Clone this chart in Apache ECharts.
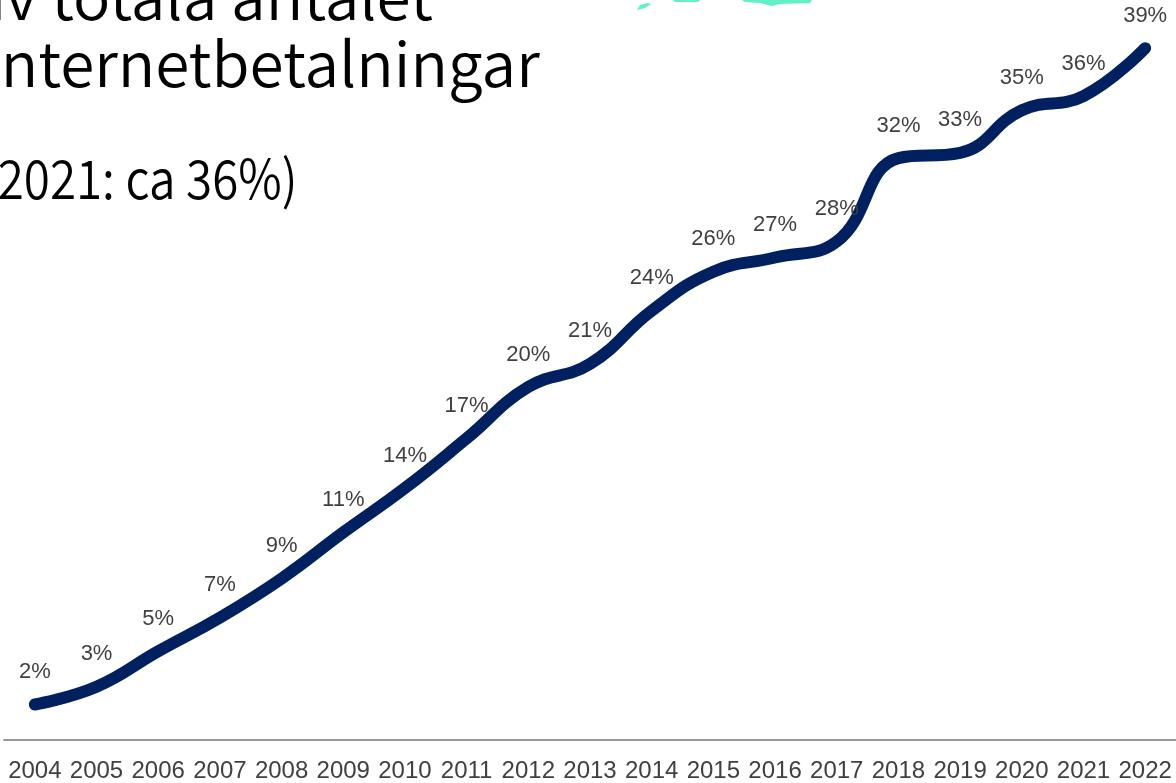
<!DOCTYPE html>
<html>
<head>
<meta charset="utf-8">
<script src="https://cdn.jsdelivr.net/npm/echarts@6/dist/echarts.min.js"></script>
<style>
html,body{margin:0;padding:0;background:#fff;}
#chart{width:1176px;height:783px;}
</style>
</head>
<body>
<div id="chart"></div>
<script>
const years = ['2004','2005','2006','2007','2008','2009','2010','2011','2012','2013','2014','2015','2016','2017','2018','2019','2020','2021','2022'];
const shareValues = [2.0, 3.0, 5.0, 6.9, 9.1, 11.7, 14.2, 17.0, 19.9, 21.2, 24.2, 26.4, 27.2, 28.1, 32.8, 33.1, 35.5, 36.3, 39.0];
const shareLabels = ['2%','3%','5%','7%','9%','11%','14%','17%','20%','21%','24%','26%','27%','28%','32%','33%','35%','36%','39%'];
const titleLines = ['av totala antalet', 'internetbetalningar', '(2021: ca 36%)'];

const chart = echarts.init(document.getElementById('chart'));
const titleFont = '350 62px "Noto Sans CJK JP", "Noto Sans", sans-serif';
chart.setOption({
  backgroundColor: '#ffffff',
  animation: false,
  grid: { left: 4, right: -6, top: 30.4, bottom: 43, containLabel: false },
  xAxis: {
    type: 'category',
    data: years,
    boundaryGap: true,
    axisLine: { lineStyle: { color: '#999999', width: 2 } },
    axisTick: { show: false },
    axisLabel: { color: '#404040', fontSize: 24, fontFamily: '"Liberation Sans", Arial, sans-serif', margin: 19, interval: 0 }
  },
  yAxis: { type: 'value', min: 0, max: 40, show: false, splitLine: { show: false } },
  series: [{
    type: 'line',
    data: shareValues,
    smooth: 0.45,
    symbol: 'circle',
    symbolSize: 1,
    showSymbol: true,
    itemStyle: { color: '#002060' },
    clip: false,
    lineStyle: { color: '#002060', width: 12, cap: 'round', join: 'round' },
    label: {
      show: true,
      position: 'top',
      distance: 21,
      color: '#404040',
      fontSize: 22,
      fontFamily: '"Liberation Sans", Arial, sans-serif',
      formatter: p => shareLabels[p.dataIndex]
    }
  }],
  graphic: [
    { type: 'text', x: -29, y: -4, style: { text: titleLines[0], font: titleFont, fill: '#000', textVerticalAlign: 'middle' } },
    { type: 'text', x: -16, y: 63, style: { text: titleLines[1], font: titleFont, fill: '#000', textVerticalAlign: 'middle' } },
    { type: 'text', x: -18, y: 178, scaleX: 0.88, style: { text: titleLines[2], font: '350 54px "Noto Sans CJK JP", "Noto Sans", sans-serif', fill: '#000', textVerticalAlign: 'middle' } },
    { type: 'polygon', shape: { points: [[637,10],[640,5],[648,3],[651,4],[645,8]] }, style: { fill: '#62f0c6' } },
    { type: 'polygon', shape: { points: [[673,0],[700,0],[698,2],[675,2]] }, style: { fill: '#62f0c6' } },
    { type: 'polygon', shape: { points: [[742,0],[812,0],[810,3],[780,4],[772,6],[760,3],[745,2]] }, style: { fill: '#62f0c6' } }
  ]
});
</script>
</body>
</html>
